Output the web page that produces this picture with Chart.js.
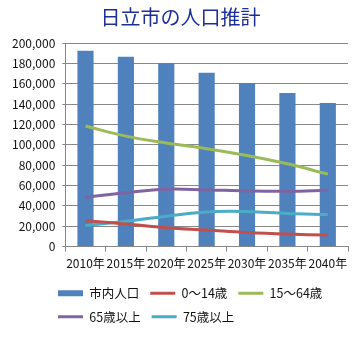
<!DOCTYPE html>
<html><head><meta charset="utf-8">
<script src="https://cdn.jsdelivr.net/npm/chart.js@4"></script>
<style>html,body{margin:0;padding:0;background:#fff}#wrap{width:360px;height:340px}</style>
</head><body><div id="wrap"><canvas id="c"></canvas></div>
<script>
const categories = ["2010年","2015年","2020年","2025年","2030年","2035年","2040年"];
const totalPop = [192500, 186500, 180000, 170800, 160800, 150800, 141000];
const age0to14 = [25500, 22200, 18600, 16300, 13900, 12300, 11300];
const age15to64 = [118400, 108500, 101800, 96200, 89500, 81300, 71300];
const age65plus = [48400, 53000, 56400, 55700, 54700, 54400, 55400];
const age75plus = [20600, 24900, 29900, 34100, 34400, 32500, 31500];
const seriesNames = ["市内人口","0〜14歳","15〜64歳","65歳以上","75歳以上"];
const yTicks = [0,20000,40000,60000,80000,100000,120000,140000,160000,180000,200000];

const FONT = "'Noto Sans CJK JP','Noto Sans',sans-serif";
const lineDs = (label, data, color) => ({
  type: 'line', label, data, borderColor: color, backgroundColor: color,
  borderWidth: 3, pointRadius: 0, tension: 0.4, order: 0, pointStyle: 'line'
});

const boxShift = {
  id: 'boxShift',
  afterLayout(chart) {
    chart.legend.left = 47;
    if (chart.titleBlock) { chart.titleBlock.left = 0; chart.titleBlock.right = 361; }
  }
};

new Chart(document.getElementById('c'), {
  data: {
    labels: categories,
    datasets: [
      { type: 'bar', label: seriesNames[0], data: totalPop, backgroundColor: '#4F81BD',
        borderWidth: 0, barPercentage: 0.4, categoryPercentage: 1, order: 1, pointStyle: 'rect' },
      lineDs(seriesNames[1], age0to14, '#C0504D'),
      lineDs(seriesNames[2], age15to64, '#9BBB59'),
      lineDs(seriesNames[3], age65plus, '#8064A2'),
      lineDs(seriesNames[4], age75plus, '#4BACC6')
    ]
  },
  options: {
    responsive: true, maintainAspectRatio: false, animation: false,
    layout: { padding: { left: 5, right: 12, top: 0, bottom: 7 } },
    plugins: {
      title: { display: true, text: '日立市の人口推計', color: '#1C2F96',
        font: { family: FONT, size: 20, weight: 'normal' }, padding: { top: 5, bottom: 14 } },
      legend: {
        position: 'bottom', align: 'start',
        labels: {
          usePointStyle: true, pointStyleWidth: 25, boxHeight: 6, padding: 11,
          color: '#111', font: { family: FONT, size: 12.5 },
          sort: (a, b) => a.datasetIndex - b.datasetIndex
        }
      },
      tooltip: { enabled: false }
    },
    scales: {
      x: {
        offset: true,
        grid: { offset: true, drawOnChartArea: false, drawTicks: true, tickLength: 5, color: '#878787' },
        border: { color: '#878787' },
        ticks: { color: '#111', font: { family: FONT, size: 12 }, maxRotation: 0, minRotation: 0, autoSkip: false, padding: 5 }
      },
      y: {
        min: 0, max: 200000,
        afterBuildTicks(axis) { axis.ticks = yTicks.map(v => ({ value: v })); },
        grid: { color: '#878787', tickLength: 3 },
        border: { color: '#878787' },
        ticks: { color: '#111', font: { family: FONT, size: 12 }, padding: 7,
          callback: v => v.toLocaleString('en-US') }
      }
    }
  },
  plugins: [boxShift]
});
</script></body></html>
